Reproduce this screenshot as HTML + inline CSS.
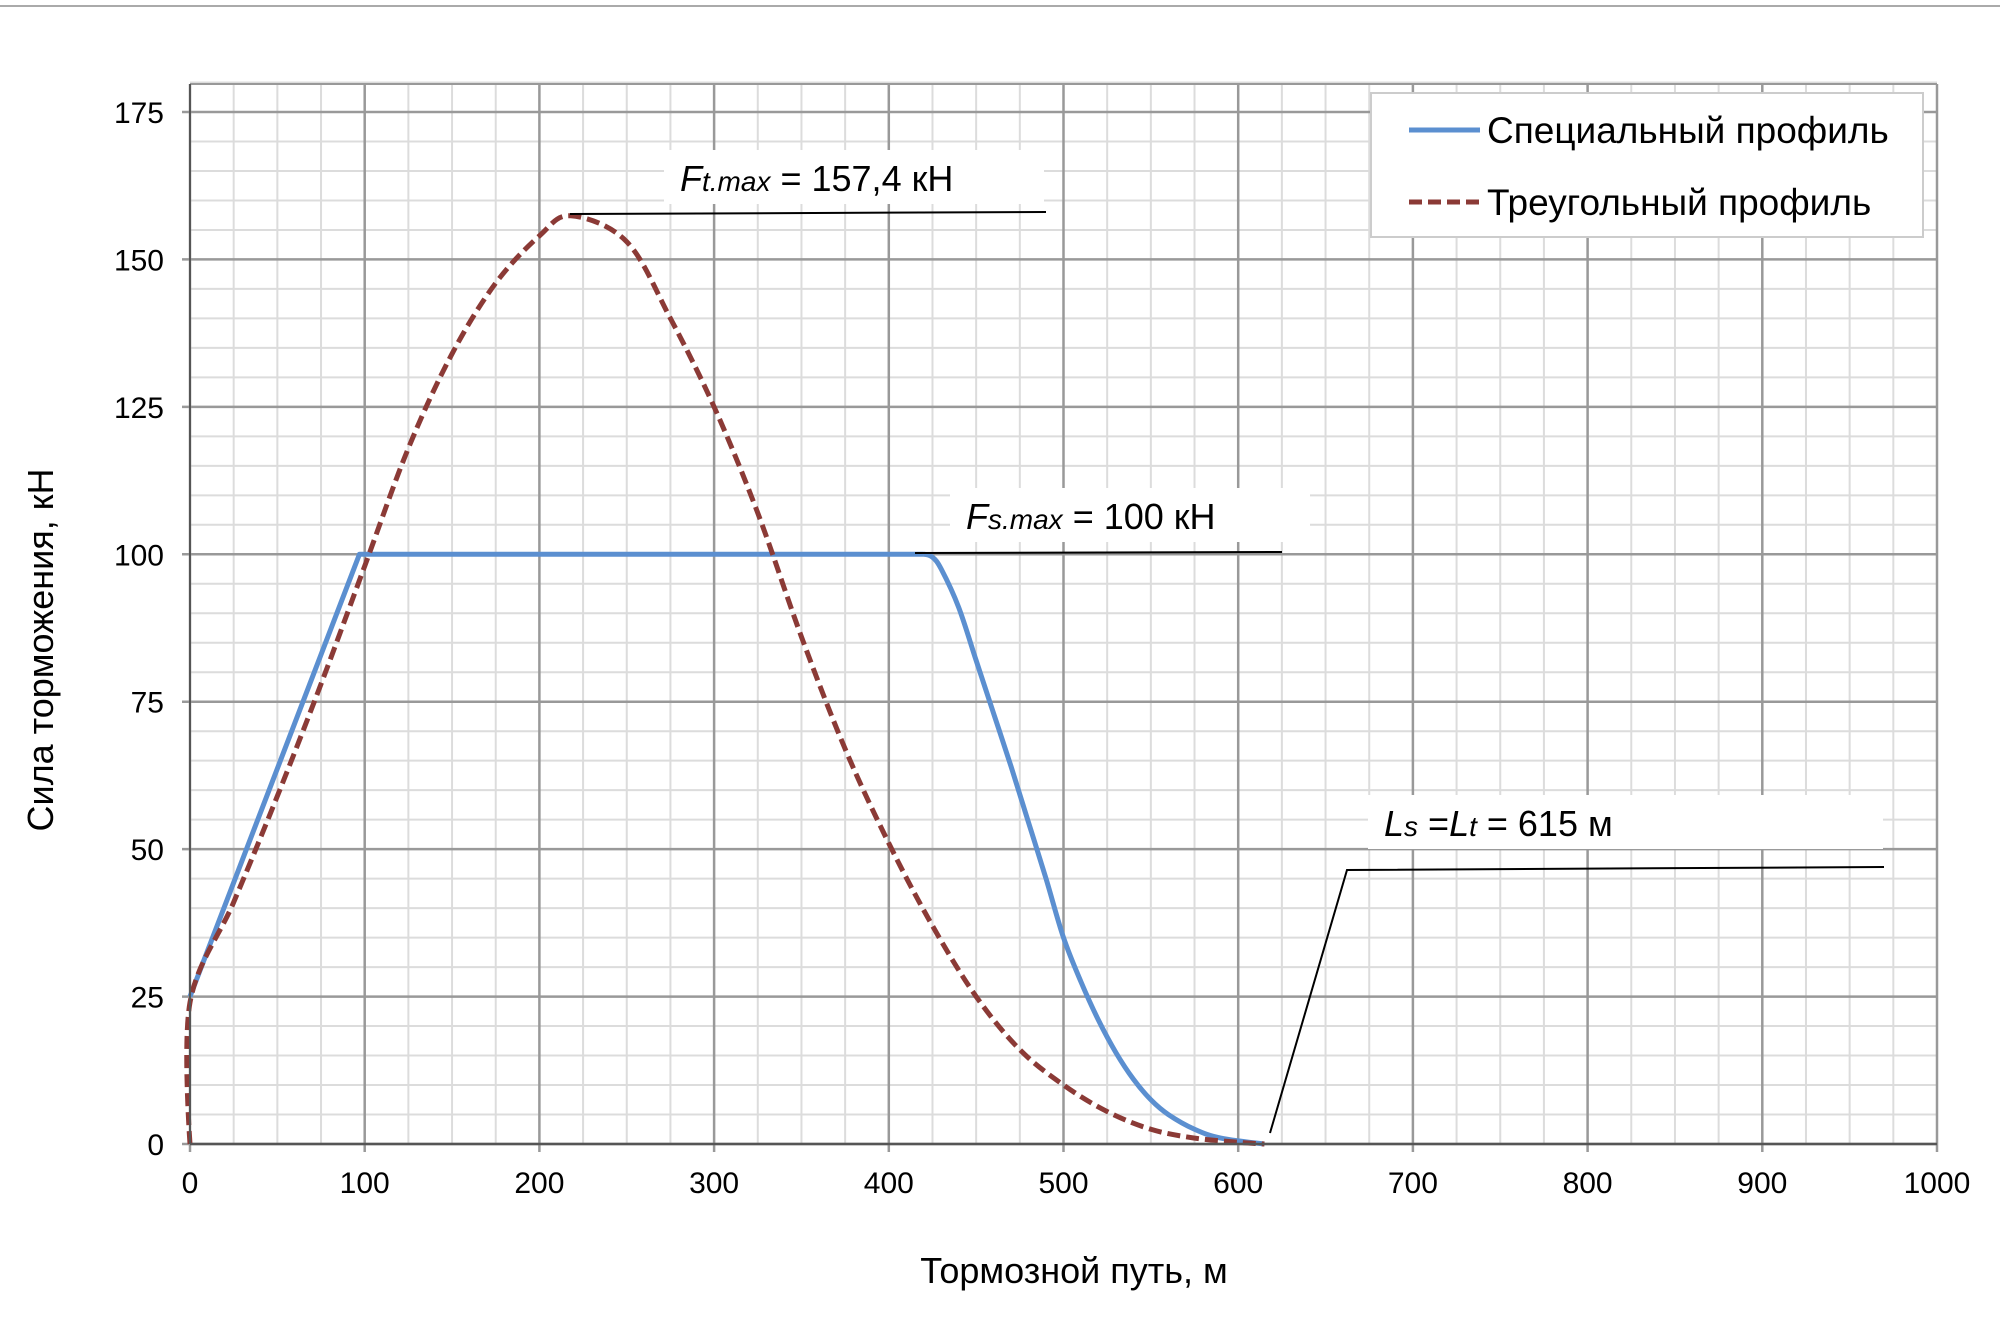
<!DOCTYPE html>
<html><head><meta charset="utf-8"><style>
html,body{margin:0;padding:0;background:#fff;}
svg{display:block;font-family:"Liberation Sans",sans-serif;}
</style></head><body>
<svg id="chart" width="2000" height="1318" viewBox="0 0 2000 1318" xmlns="http://www.w3.org/2000/svg">
<line x1="0" y1="6" x2="2000" y2="6" stroke="#aaa" stroke-width="2"/>
<g id="grid"></g>
<g id="series"></g>
<g id="axes"></g>
<g id="annot"></g>
<text x="1074" y="1283" text-anchor="middle" font-size="36">Тормозной путь, м</text>
<text transform="translate(53,650) rotate(-90)" text-anchor="middle" font-size="36">Сила торможения, кН</text>
<g>
<rect x="1371" y="93" width="552" height="144" fill="#fff" stroke="#ccc" stroke-width="2"/>
<line x1="1409" y1="130" x2="1480" y2="130" stroke="#5b8fd0" stroke-width="5"/>
<text x="1487" y="143" font-size="37">Специальный профиль</text>
<line x1="1409" y1="202" x2="1480" y2="202" stroke="#8b3a36" stroke-width="5" stroke-dasharray="13,6"/>
<text x="1487" y="215" font-size="37">Треугольный профиль</text>
</g>
</svg>
<script>
const xTicks=[0,100,200,300,400,500,600,700,800,900,1000];
const yTicks=[0,25,50,75,100,125,150,175];
const specialX=[0,97,420,425,430,440,450,460,470,480,490,500,510,520,530,540,550,560,575,590,615];
const specialY=[25,100,100,99.5,97.5,91,82,73,64,54.5,45,35,27.5,21,15.5,11,7.5,5,2.5,1,0];
const triX=[0,0,25,50,75,100,125,150,175,200,218,250,275,300,325,350,375,400,425,450,475,500,525,550,575,600,615];
const triY=[0,24,41,59,78,98,118,134,146,154,157.4,153,140,125,107,86,67,51,37,25,16,10,5.5,2.5,1,0.3,0];
const X0=190,X1=1937,Y0=1144,Y1=112;
const sx=v=>X0+(X1-X0)*v/1000, sy=v=>Y0-(Y0-Y1)*v/175;
const NS="http://www.w3.org/2000/svg";
function mk(tag,attrs,parent){const e=document.createElementNS(NS,tag);for(const k in attrs)e.setAttribute(k,attrs[k]);parent.appendChild(e);return e;}
const grid=document.getElementById('grid'),axes=document.getElementById('axes'),ser=document.getElementById('series'),ann=document.getElementById('annot');
for(let v=0;v<=1000;v+=25){if(v%100===0)continue;const l=mk('line',{x1:sx(v),x2:sx(v),y1:Y1-28,y2:Y0,stroke:'#dcdcdc','stroke-width':2},grid);

}
for(let v=0;v<=180;v+=5){if(v%25===0)continue;const l=mk('line',{x1:X0,x2:X1,y1:sy(v),y2:sy(v),stroke:'#dcdcdc','stroke-width':2},grid);

}
xTicks.forEach(v=>{const l=mk('line',{x1:sx(v),x2:sx(v),y1:Y1-28,y2:Y0+8,stroke:'#999','stroke-width':2.5},grid);


const t=mk('text',{x:sx(v),y:1193,'text-anchor':'middle','font-size':30},axes);t.textContent=v;

});
yTicks.forEach(v=>{const l=mk('line',{x1:X0-8,x2:X1,y1:sy(v),y2:sy(v),stroke:'#999','stroke-width':2.5},grid);


const t=mk('text',{x:164,y:sy(v)+11,'text-anchor':'end','font-size':30},axes);t.textContent=v;

});
const plotTop=mk('line',{x1:X0,x2:X1,y1:Y1-28,y2:Y1-28,stroke:'#999','stroke-width':2},axes);


const ya=mk('line',{x1:X0,x2:X0,y1:Y1-28,y2:Y0,stroke:'#555','stroke-width':2},axes);


const xa=mk('line',{x1:X0,x2:X1,y1:Y0,y2:Y0,stroke:'#555','stroke-width':2.5},axes);


function smooth(xs,ys){const p=xs.map((x,i)=>[sx(x),sy(ys[i])]);let d='M'+p[0][0]+','+p[0][1];
for(let i=0;i<p.length-1;i++){const p0=p[Math.max(0,i-1)],p1=p[i],p2=p[i+1],p3=p[Math.min(p.length-1,i+2)];
const t=(i===0||(xs[i]===xs[i+1]))?0:1/6, t2=(i+2>=p.length)?0:1/6;
const c1=[p1[0]+(p2[0]-p0[0])*t,p1[1]+(p2[1]-p0[1])*t],c2=[p2[0]-(p3[0]-p1[0])*t2,p2[1]-(p3[1]-p1[1])*t2];
d+=' C'+c1+' '+c2+' '+p2;}return d;}
function lin(xs,ys,from,to){return xs.slice(from,to).map((x,i)=>(i?'L':'M')+sx(x)+','+sy(ys[from+i])).join(' ');}
const sp1=mk('path',{d:lin(specialX,specialY,0,3),fill:'none',stroke:'#5b8fd0','stroke-width':5,'stroke-linejoin':'round'},ser);


const sp2=mk('path',{d:smooth(specialX.slice(2),specialY.slice(2)),fill:'none',stroke:'#5b8fd0','stroke-width':5},ser);


const tr=mk('path',{d:smooth(triX,triY),fill:'none',stroke:'#8b3a36','stroke-width':5,'stroke-dasharray':'13,6'},ser);


function label(x,y,w,h,html,name){const r=mk('rect',{x:x,y:y,width:w,height:h,fill:'#fff'},ann);


const t=mk('text',{x:x+16,y:y+h-13,'font-size':36},ann);t.innerHTML=html;

}
label(664,150,380,54,'<tspan font-style="italic">F</tspan><tspan font-style="italic" font-size="28">t.max</tspan> = 157,4 кН','ft-max-label');
label(950,488,360,54,'<tspan font-style="italic">F</tspan><tspan font-style="italic" font-size="28">s.max</tspan> = 100 кН','fs-max-label');
label(1368,795,515,54,'<tspan font-style="italic">L</tspan><tspan font-style="italic" font-size="28">s</tspan> =<tspan font-style="italic">L</tspan><tspan font-style="italic" font-size="28">t</tspan> = 615 м','length-label');
const l1=mk('path',{d:'M570,214 L1046,212',stroke:'#000','stroke-width':2,fill:'none'},ann);


const l2=mk('path',{d:'M915,553 L1282,552',stroke:'#000','stroke-width':2,fill:'none'},ann);


const l3=mk('path',{d:'M1270,1133 L1347,870 L1884,867',stroke:'#000','stroke-width':2,fill:'none'},ann);


</script>
</body></html>
